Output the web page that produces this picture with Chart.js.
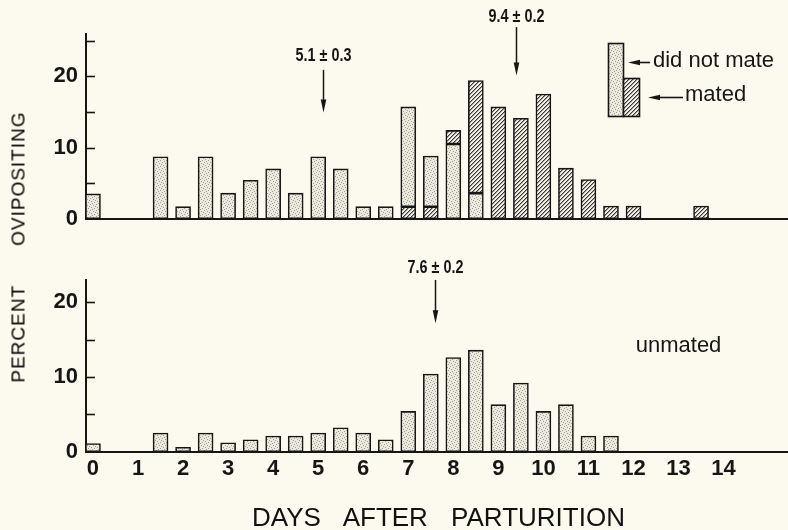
<!DOCTYPE html>
<html>
<head>
<meta charset="utf-8">
<script src="https://cdn.jsdelivr.net/npm/chart.js@4.4.1/dist/chart.umd.min.js"></script>
<style>
  html, body { margin:0; padding:0; }
  body { width:788px; height:530px; position:relative; overflow:hidden; background:#fcfaee; }
  canvas { position:absolute; left:0; }
  #xtitle { position:absolute; left:252px; top:504px; font:26px 'Liberation Sans', Arial, sans-serif; line-height:26px; color:#111; white-space:nowrap; word-spacing:16px; }
  #ytitle { position:absolute; left:18px; top:247px; font:19px 'Liberation Sans', Arial, sans-serif; line-height:19px; color:#000; white-space:nowrap; letter-spacing:1px; word-spacing:33px; transform:translate(-50%,-50%) rotate(-90deg); }
</style>
</head>
<body>
<canvas id="topc" width="788" height="240" style="top:0"></canvas>
<canvas id="botc" width="788" height="290" style="top:240px"></canvas>
<div id="xtitle">DAYS AFTER PARTURITION</div>
<div id="ytitle">PERCENT OVIPOSITING</div>
<script>
// ---- data ----
const days = [0,0.5,1,1.5,2,2.5,3,3.5,4,4.5,5,5.5,6,6.5,7,7.5,8,8.5,9,9.5,10,10.5,11,11.5,12,12.5,13,13.5];
// top panel: females that did not mate (stippled)
const didNotMate = [3.5,0,0,8.7,1.7,8.7,3.6,5.4,7.0,3.6,8.7,7.0,1.7,1.7,14.0,7.1,10.5,3.6,0,0,0,0,0,0,0,0,0,0];
// top panel: mated females (hatched) drawn below the stippled part
const matedBelow = [0,0,0,0,0,0,0,0,0,0,0,0,0,0,1.7,1.7,0,0,0,0,0,0,0,0,0,0,0,0];
// top panel: mated females (hatched) drawn above the stippled part
const matedAbove = [0,0,0,0,0,0,0,0,0,0,0,0,0,0,0,0,1.9,15.8,15.7,14.1,17.5,7.1,5.5,1.8,1.8,0,0,1.8];
// bottom panel: unmated
const unmated = [1.1,0,0,2.5,0.6,2.5,1.2,1.6,2.1,2.1,2.5,3.2,2.5,1.6,5.4,10.4,12.6,13.6,6.3,9.2,5.4,6.3,2.1,2.1,0,0,0,0];

const xTickLabels = ['0','1','2','3','4','5','6','7','8','9','10','11','12','13','14'];
const yTickLabels = ['0','10','20'];
const yMinorTicks = [5,10,15,20,25];

// mean markers
const topMarkDays = [5.1, 9.4];
const topMarkLabels = ['5.1 \u00b1 0.3', '9.4 \u00b1 0.2'];
const topMarkTip = [14.9, 20.1];
const topMarkTail = [20.9, 26.9];
const botMarkDays = [7.6];
const botMarkLabels = ['7.6 \u00b1 0.2'];
const botMarkTip = [17.2];
const botMarkTail = [23.0];

// ---- styling helpers ----
const INK = '#161616';
const TICKFONT = "'Liberation Sans', Arial, sans-serif";

function makeStipple(ctx){
  const c = document.createElement('canvas'); c.width = 6; c.height = 6;
  const g = c.getContext('2d');
  g.fillStyle = '#ebe9de'; g.fillRect(0,0,6,6);
  g.fillStyle = '#a3a198';
  [[0,0],[3,1],[1,3],[4,4],[5,2],[2,5]].forEach(p=>g.fillRect(p[0],p[1],1,1));
  return ctx.createPattern(c,'repeat');
}
function makeHatch(ctx){
  const n = 4;
  const c = document.createElement('canvas'); c.width = n; c.height = n;
  const g = c.getContext('2d');
  g.fillStyle = '#f2efe2'; g.fillRect(0,0,n,n);
  g.fillStyle = '#3a3a3a';
  for (let i=0;i<n;i++){ g.fillRect(i, n-1-i, 1, 1); }
  g.fillStyle = 'rgba(58,58,58,0.45)';
  for (let i=0;i<n;i++){ g.fillRect((i+1)%n, n-1-i, 1, 1); }
  return ctx.createPattern(c,'repeat');
}

const pts = arr => days.map((d,i)=>({x:d, y: arr[i] > 0 ? arr[i] : null}));

const inwardTicks = {
  id: 'inwardTicks',
  afterDraw(chart){
    const {ctx, chartArea} = chart; const y = chart.scales.y;
    ctx.save(); ctx.strokeStyle = INK; ctx.lineWidth = 1.6;
    yMinorTicks.forEach(v=>{
      if (v > y.max) return;
      const py = Math.round(y.getPixelForValue(v)) + 0.5;
      ctx.beginPath(); ctx.moveTo(chartArea.left, py); ctx.lineTo(chartArea.left + 9, py); ctx.stroke();
    });
    ctx.restore();
  }
};

function drawArrow(ctx, x, y0, y1){
  ctx.beginPath(); ctx.moveTo(x, y0); ctx.lineTo(x, y1 - 8); ctx.stroke();
  ctx.beginPath(); ctx.moveTo(x - 2.8, y1 - 13); ctx.lineTo(x, y1); ctx.lineTo(x + 2.8, y1 - 13); ctx.closePath(); ctx.fill();
}
function drawLeftArrow(ctx, x0, x1, y){
  ctx.beginPath(); ctx.moveTo(x0, y); ctx.lineTo(x1 + 8, y); ctx.stroke();
  ctx.beginPath(); ctx.moveTo(x1 + 12, y - 2.8); ctx.lineTo(x1, y); ctx.lineTo(x1 + 12, y + 2.8); ctx.closePath(); ctx.fill();
}
function narrowText(ctx, txt, x, y, size){
  ctx.save();
  ctx.font = 'bold ' + size + 'px ' + TICKFONT;
  ctx.textAlign = 'center'; ctx.textBaseline = 'middle';
  ctx.translate(x, y); ctx.scale(0.8, 1);
  ctx.fillText(txt, 0, 0);
  ctx.restore();
}

function markers(id, mDays, labels, tips, tails, gap){
  return {
    id,
    afterDraw(chart){
      const {ctx} = chart; const xs = chart.scales.x, ys = chart.scales.y;
      ctx.save(); ctx.strokeStyle = INK; ctx.fillStyle = INK; ctx.lineWidth = 1.5;
      mDays.forEach((d,i)=>{
        const px = Math.round(xs.getPixelForValue(d)) + 0.5;
        const tail = ys.getPixelForValue(tails[i]);
        const tip = ys.getPixelForValue(tips[i]);
        drawArrow(ctx, px, tail, tip);
        narrowText(ctx, labels[i], px, tail - gap[i], 18);
      });
      ctx.restore();
    }
  };
}

const baseOptions = (ymax, padTop, xHeight, showX) => ({
  responsive: false, animation: false, devicePixelRatio: 1,
  layout: { padding: { top: padTop, left: 0, right: 0, bottom: 0 } },
  plugins: { legend: { display: false }, tooltip: { enabled: false } },
  datasets: { bar: { barThickness: 15, borderColor: INK, borderWidth: 1.6, borderSkipped: false } },
  scales: {
    x: {
      type: 'linear', min: -0.155, max: 15.43, stacked: true, offset: false,
      grid: { display: false, drawTicks: false },
      border: { color: INK, width: 2 },
      ticks: {
        display: showX, stepSize: 1, includeBounds: false, autoSkip: false, maxRotation: 0, padding: 4,
        color: INK, font: { family: TICKFONT, size: 22, weight: 'bold' },
        callback: v => (Number.isInteger(v) && v >= 0 && v < xTickLabels.length) ? xTickLabels[v] : ''
      },
      afterFit: s => { s.height = xHeight; }
    },
    y: {
      min: 0, max: ymax, stacked: true,
      grid: { display: false, drawTicks: false },
      border: { color: INK, width: 2 },
      ticks: {
        stepSize: 10, includeBounds: false, padding: 8, color: INK,
        font: { family: TICKFONT, size: 22, weight: 'bold' },
        callback: v => yTickLabels.includes(String(v)) ? String(v) : ''
      },
      afterFit: s => { s.width = 86; }
    }
  }
});

// ---- top panel ----
const tctx = document.getElementById('topc').getContext('2d');
const stippleT = makeStipple(tctx), hatchT = makeHatch(tctx);

const legendPlugin = {
  id: 'legendDrawn',
  afterDraw(chart){
    const ctx = chart.ctx;
    ctx.save();
    ctx.lineWidth = 1.6; ctx.strokeStyle = INK; ctx.fillStyle = INK;
    ctx.fillStyle = stippleT; ctx.fillRect(608, 43, 15, 73);
    ctx.strokeRect(608.5, 43.5, 15, 73);
    ctx.fillStyle = hatchT; ctx.fillRect(623, 78, 16, 38);
    ctx.strokeRect(623.5, 78.5, 16, 38);
    ctx.fillStyle = INK;
    drawLeftArrow(ctx, 650, 628, 62.5);
    drawLeftArrow(ctx, 683, 648, 97.5);
    ctx.font = "22px 'Liberation Sans', Arial, sans-serif";
    ctx.textBaseline = 'middle'; ctx.textAlign = 'left';
    ctx.fillText('did not mate', 653, 61);
    ctx.fillText('mated', 685, 95);
    ctx.restore();
  }
};

new Chart(tctx, {
  type: 'bar',
  data: {
    datasets: [
      { label: 'mated', data: pts(matedBelow), backgroundColor: hatchT },
      { label: 'did not mate', data: pts(didNotMate), backgroundColor: stippleT },
      { label: 'mated', data: pts(matedAbove), backgroundColor: hatchT }
    ]
  },
  options: baseOptions(26, 33.5, 11.5, false),
  plugins: [inwardTicks, markers('mTop', topMarkDays, topMarkLabels, topMarkTip, topMarkTail, [14, 10]), legendPlugin]
});

// ---- bottom panel ----
const bctx = document.getElementById('botc').getContext('2d');
const stippleB = makeStipple(bctx);
const unmatedLabel = {
  id: 'unmatedLabel',
  afterDraw(chart){
    const ctx = chart.ctx; const xs = chart.scales.x, ys = chart.scales.y;
    ctx.save(); ctx.fillStyle = INK;
    ctx.font = "22px 'Liberation Sans', Arial, sans-serif";
    ctx.textAlign = 'center'; ctx.textBaseline = 'middle';
    ctx.fillText('unmated', xs.getPixelForValue(13.0), ys.getPixelForValue(14.1));
    ctx.restore();
  }
};
new Chart(bctx, {
  type: 'bar',
  data: { datasets: [ { label: 'unmated', data: pts(unmated), backgroundColor: stippleB } ] },
  options: baseOptions(23, 39.9, 78.3, true),
  plugins: [inwardTicks, markers('mBot', botMarkDays, botMarkLabels, botMarkTip, botMarkTail, [12]), unmatedLabel]
});
</script>
</body>
</html>
